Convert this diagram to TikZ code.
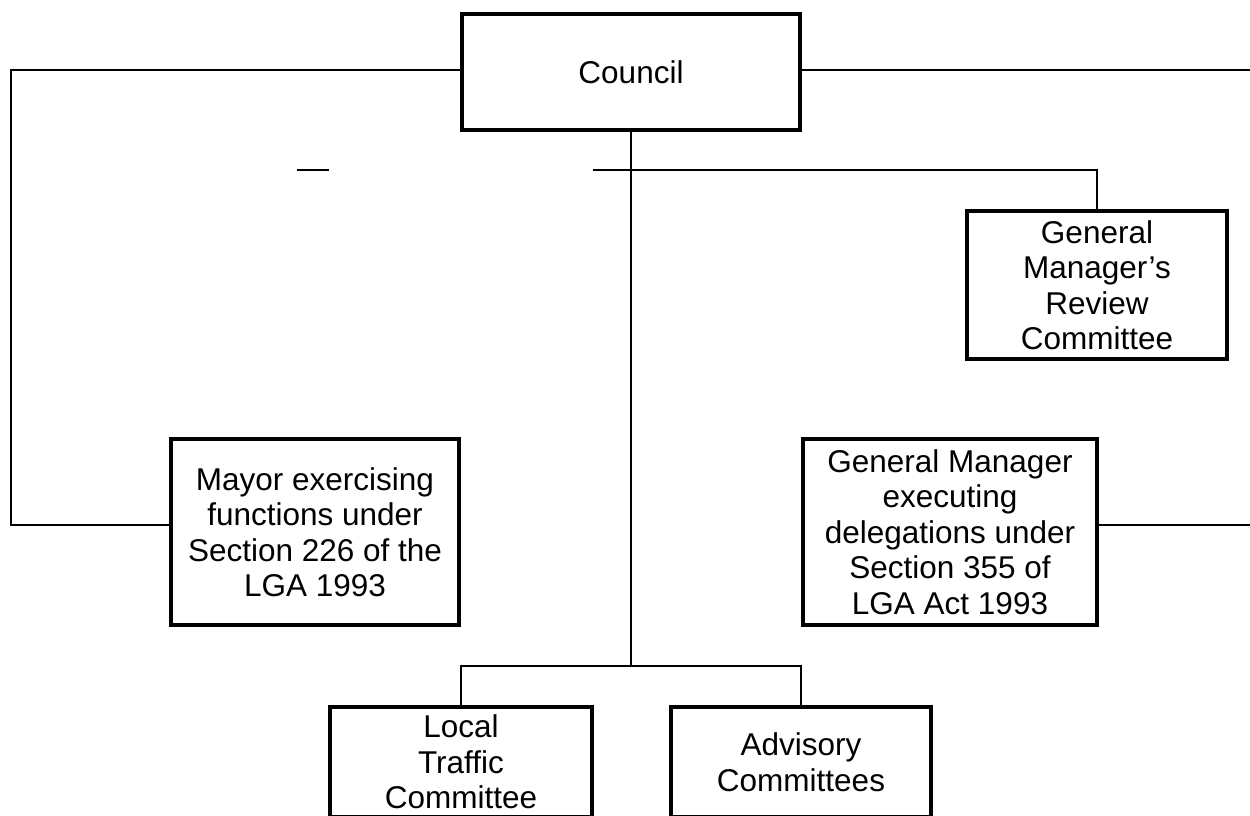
\documentclass[tikz,border=0pt]{standalone}
\usepackage{fontspec}
\setmainfont{Liberation Sans}
\begin{document}
\begin{tikzpicture}[x=1pt,y=-1pt,
  orgbox/.style={draw=black,line width=4pt,fill=white,inner sep=0pt,align=center,
    font=\fontsize{31.5}{35.5}\selectfont},
  link/.style={draw=black,line width=1.6pt}]
\useasboundingbox (0,0) rectangle (1250,816);
\clip (0,0) rectangle (1250,816);
% connectors first (behind boxes)
\coordinate (lcorner) at (11,70);
\coordinate (redgeA) at (1255,70);
\coordinate (redgeB) at (1255,525);
\coordinate (dashA) at (297,170);
\coordinate (dashB) at (329,170);
\coordinate (busStart) at (593,170);
\coordinate (gmrTurn) at (1097,170);
\coordinate (busB) at (631,666);
% boxes
\node[orgbox,minimum width=338pt,minimum height=116pt] (council) at (631,72) {Council};
\node[orgbox,minimum width=288pt,minimum height=186pt] (mayor) at (315,532)
  {Mayor exercising\\functions under\\Section 226 of the\\LGA 1993};
\node[orgbox,minimum width=294pt,minimum height=186pt] (gm) at (950,532)
  {General Manager\\executing\\delegations under\\Section 355 of\\LGA Act 1993};
\node[orgbox,minimum width=260pt,minimum height=148pt] (gmr) at (1097,285)
  {General\\Manager’s\\Review\\Committee};
\node[orgbox,minimum width=262pt,minimum height=110pt] (ltc) at (461,762)
  {Local\\Traffic\\Committee};
\node[orgbox,minimum width=260pt,minimum height=110pt] (adv) at (801,762)
  {Advisory\\Committees};
% lines
\draw[link] (council.west |- lcorner) -- (lcorner) |- (mayor.west |- redgeB);
\draw[link] (council.east |- redgeA) -- (redgeA);
\draw[link] (gm.east |- redgeB) -- (redgeB);
\draw[link] (dashA) -- (dashB);
\draw[link] (busStart) -- (gmrTurn) -- (gmr.north);
\draw[link] (council.south) -- (busB);
\draw[link] (ltc.north) |- (busB) -| (adv.north);
\end{tikzpicture}
\end{document}
